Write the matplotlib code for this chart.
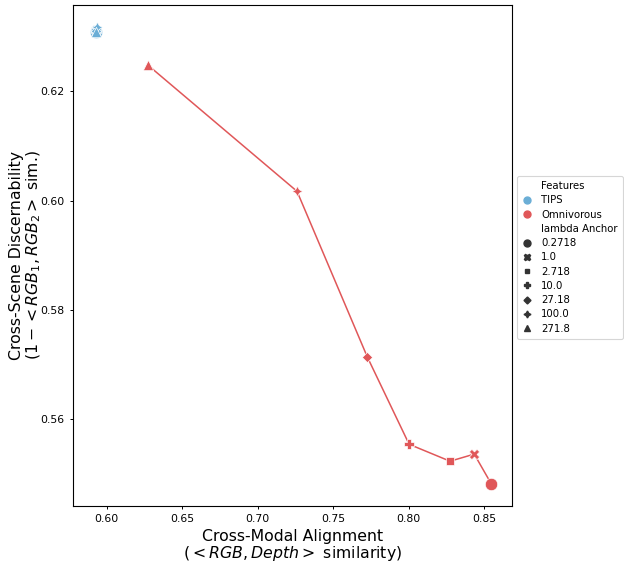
import matplotlib
matplotlib.use("Agg")
import matplotlib.pyplot as plt
from matplotlib.lines import Line2D

# lambda anchor values and their markers (seaborn default style order)
lambdas = ["0.2718", "1.0", "2.718", "10.0", "27.18", "100.0", "271.8"]
markers = ["o", "X", (4, 0, 45), "P", (4, 0, 0), (4, 1, 0), "^"]

# TIPS features - all sit in one tight cluster
tips_x = [0.5928, 0.5926, 0.5930, 0.5929, 0.5931, 0.5937, 0.5931]
tips_y = [0.6309, 0.6313, 0.6311, 0.6312, 0.6310, 0.6317, 0.6309]

# Omnivorous features
omni_x = [0.8545, 0.8433, 0.8273, 0.8002, 0.7725, 0.7260, 0.6273]
omni_y = [0.5482, 0.5536, 0.5523, 0.5554, 0.5714, 0.6017, 0.6248]

c_tips = "#6baed6"
c_omni = "#e05759"

fig = plt.figure(figsize=(6.24, 5.65), dpi=100)
ax = fig.add_axes([0.117, 0.1044, 0.704, 0.8867])

ax.plot(tips_x, tips_y, color=c_tips, lw=1.1, zorder=1)
ax.plot(omni_x, omni_y, color=c_omni, lw=1.1, zorder=1)

for i in range(len(lambdas)):
    s = 80 if markers[i] == "o" else 55
    ax.scatter(tips_x[i], tips_y[i], marker=markers[i], s=s, color=c_tips,
               edgecolor="white", linewidth=0.5, zorder=3)
    ax.scatter(omni_x[i], omni_y[i], marker=markers[i], s=s, color=c_omni,
               edgecolor="white", linewidth=0.5, zorder=3)

ax.set_xlim(0.5777, 0.8685)
ax.set_ylim(0.5441, 0.6358)
ax.set_xticks([0.60, 0.65, 0.70, 0.75, 0.80, 0.85])
ax.set_yticks([0.56, 0.58, 0.60, 0.62])
ax.tick_params(labelsize=7.8, length=2.5, width=0.7)
for sp in ax.spines.values():
    sp.set_linewidth(0.8)

ax.set_xlabel("Cross-Modal Alignment\n($<RGB, Depth>$ similarity)", fontsize=11.3,
              labelpad=3, linespacing=1.0)
ax.set_ylabel("Cross-Scene Discernability\n$(1 - <RGB_1, RGB_2>$ sim.)", fontsize=11.3,
              labelpad=-1.5, linespacing=1.0)

# legend in seaborn style: section titles as entries without handles
blank = Line2D([], [], linestyle="none", marker=None)
handles = [blank,
           Line2D([], [], linestyle="none", marker="o", color=c_tips, markersize=5),
           Line2D([], [], linestyle="none", marker="o", color=c_omni, markersize=5),
           blank]
labels = ["Features", "TIPS", "Omnivorous", "lambda Anchor"]
for i in range(len(lambdas)):
    handles.append(Line2D([], [], linestyle="none", marker=markers[i], color="#333333",
                          markersize=5))
    labels.append(lambdas[i])

leg = fig.legend(handles, labels, loc="upper left", bbox_to_anchor=(0.8285, 0.6885),
                 bbox_transform=fig.transFigure, fontsize=7.3, frameon=True,
                 borderaxespad=0, handletextpad=0.9, labelspacing=0.42,
                 borderpad=0.5, handlelength=1.0)
leg.get_frame().set_linewidth(0.8)

fig.savefig("out.png", dpi=100)
